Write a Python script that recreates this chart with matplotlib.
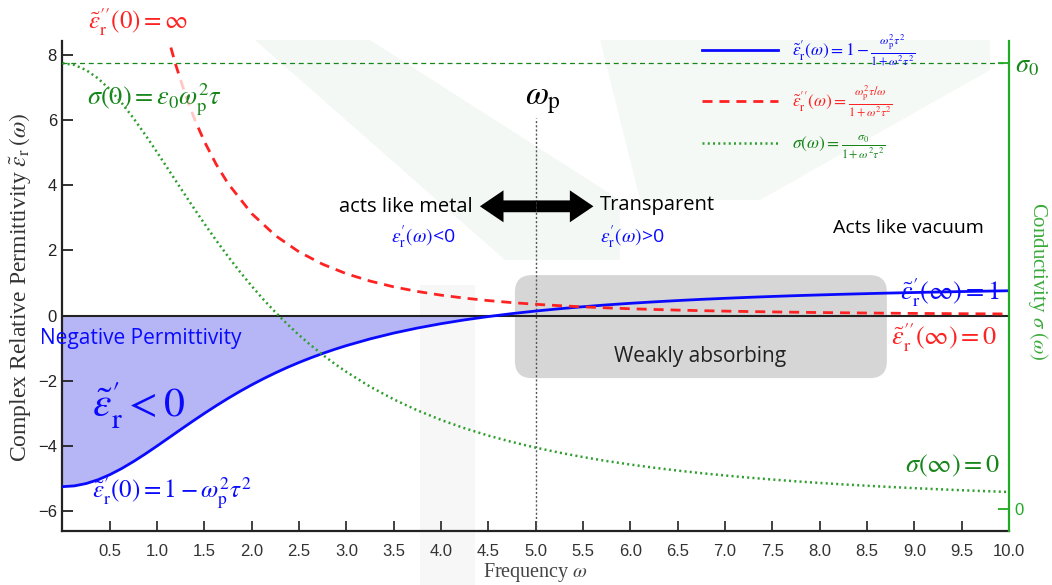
import matplotlib
matplotlib.use("Agg")
import matplotlib.pyplot as plt
from matplotlib.patches import FancyBboxPatch, FancyArrowPatch, Polygon

plt.rcParams['mathtext.fontset'] = 'stix'
plt.rcParams['font.family'] = ['Liberation Sans', 'DejaVu Sans']

omega = [0.0, 0.125, 0.25, 0.375, 0.5, 0.625, 0.75, 0.875, 1.0, 1.125, 1.25,
         1.375, 1.5, 1.625, 1.75, 1.875, 2.0, 2.125, 2.25, 2.375, 2.5, 2.625,
         2.75, 2.875, 3.0, 3.25, 3.5, 3.75, 4.0, 4.25, 4.5, 4.75, 5.0, 5.25,
         5.5, 5.75, 6.0, 6.25, 6.5, 6.75, 7.0, 7.25, 7.5, 7.75, 8.0, 8.25,
         8.5, 8.75, 9.0, 9.25, 9.5, 9.75, 10.0]
eps_real = [-5.250, -5.226, -5.154, -5.038, -4.882, -4.694, -4.479, -4.246,
            -4.000, -3.748, -3.494, -3.244, -3.000, -2.765, -2.540, -2.326,
            -2.125, -1.936, -1.759, -1.593, -1.439, -1.296, -1.162, -1.038,
            -0.923, -0.717, -0.538, -0.384, -0.250, -0.133, -0.031, 0.059,
            0.138, 0.208, 0.270, 0.326, 0.375, 0.419, 0.459, 0.496, 0.528,
            0.558, 0.585, 0.610, 0.632, 0.653, 0.672, 0.690, 0.706, 0.721,
            0.735, 0.748, 0.760]
sigma_ratio = [1.000, 0.9961, 0.9846, 0.9660, 0.9412, 0.9110, 0.8767, 0.8393,
               0.8000, 0.7596, 0.7191, 0.6791, 0.6400, 0.6024, 0.5664, 0.5322,
               0.5000, 0.4697, 0.4414, 0.4149, 0.3902, 0.3673, 0.3459, 0.3261,
               0.3077, 0.2747, 0.2462, 0.2215, 0.2000, 0.1813, 0.1649, 0.1506,
               0.1379, 0.1267, 0.1168, 0.1079, 0.1000, 0.0929, 0.0865, 0.0807,
               0.0755, 0.0707, 0.0664, 0.0624, 0.0588, 0.0555, 0.0525, 0.0497,
               0.0471, 0.0447, 0.0424, 0.0404, 0.0385]

omega_imag = [1.1, 1.15, 1.2, 1.3, 1.4, 1.5, 1.625, 1.75, 2.0, 2.25, 2.5, 2.75,
              3.0, 3.25, 3.5, 3.75, 4.0, 4.25, 4.5, 4.75, 5.0, 5.25, 5.5, 5.75,
              6.0, 6.25, 6.5, 6.75, 7.0, 7.25, 7.5, 7.75, 8.0, 8.25, 8.5, 8.75,
              9.0, 9.25, 9.5, 9.75, 10.0]
eps_imag = [8.724, 8.169, 7.659, 6.759, 5.992, 5.333, 4.633, 4.046, 3.125,
            2.452, 1.951, 1.572, 1.282, 1.057, 0.879, 0.738, 0.625, 0.533,
            0.458, 0.396, 0.345, 0.302, 0.265, 0.235, 0.208, 0.186, 0.166,
            0.149, 0.135, 0.122, 0.111, 0.101, 0.092, 0.084, 0.077, 0.071,
            0.065, 0.060, 0.056, 0.052, 0.048]

omega_p = 5.0
x_ticks = [0.5, 1.0, 1.5, 2.0, 2.5, 3.0, 3.5, 4.0, 4.5, 5.0, 5.5, 6.0, 6.5,
           7.0, 7.5, 8.0, 8.5, 9.0, 9.5, 10.0]
y_ticks = [-6, -4, -2, 0, 2, 4, 6, 8]

BLUE = '#0a0aff'
RED = '#ff2222'
GREEN = '#2e9e2e'
DKGREEN = '#17861a'

W, H = 1052, 585
fig = plt.figure(figsize=(W / 100, H / 100), dpi=100)


def px(x, y):
    return (x / W, 1 - y / H)


# faint logo shapes in the background
for pts, col in [([(255, 40), (370, 40), (620, 200), (620, 260), (505, 260)], '#f3f8f4'),
                 ([(600, 40), (990, 40), (990, 70), (760, 200), (640, 200)], '#f5f9f6'),
                 ([(420, 285), (475, 285), (475, 585), (420, 585)], '#f7f7f7')]:
    fig.add_artist(Polygon([px(*p) for p in pts], closed=True, fc=col, ec='none',
                           transform=fig.transFigure, zorder=0))

ax = fig.add_axes([0.0594, 0.0923, 0.8997, 0.8381])
ax.patch.set_alpha(0)
ax2 = ax.twinx()

ax.set_xlim(0, 10)
ax.set_ylim(-6.61, 8.43)
ax2.set_ylim(-0.049, 1.0504)

# weakly absorbing region
box = FancyBboxPatch((4.78, -1.92), 3.93, 3.16,
                     boxstyle="round,pad=0,rounding_size=0.18",
                     mutation_aspect=2.9, fc='#d6d6d6', ec='none', zorder=0.5)
ax.add_patch(box)

ax.fill_between(omega, eps_real, 0, where=[e < 0 for e in eps_real],
                interpolate=True, color='#b6b6f6', lw=0, zorder=1)
ax.axhline(0, color='#222222', lw=1.5, zorder=2)
ax.vlines(omega_p, -6.6, 6.05, colors='#555555', linestyles=(0, (1.5, 1.5)),
          lw=1.0, zorder=2)

l_real, = ax.plot(omega, eps_real, color=BLUE, lw=2, zorder=4)
l_imag, = ax.plot(omega_imag, eps_imag, color=RED, lw=2,
                  linestyle=(0, (3.6, 2.5)), zorder=4)
ax2.axhline(1.0, color=DKGREEN, lw=0.9, linestyle=(0, (4, 3)), zorder=1)
l_sig, = ax2.plot(omega, sigma_ratio, color=GREEN, lw=1.8,
                  linestyle=(0, (0.8, 1.3)), zorder=4)

# axes styling
for s in ['top', 'right']:
    ax.spines[s].set_visible(False)
for s in ['top', 'left', 'bottom']:
    ax2.spines[s].set_visible(False)
for s in ['left', 'bottom']:
    ax.spines[s].set_color('#222222')
    ax.spines[s].set_linewidth(1.6)
ax2.spines['right'].set_color('#22aa22')
ax2.spines['right'].set_linewidth(1.6)

ax.set_xticks(x_ticks)
ax.set_xticklabels(['%.1f' % t for t in x_ticks])
ax.set_yticks(y_ticks)
ax.tick_params(axis='x', direction='in', length=7, width=1.3, pad=9,
               labelsize=12, colors='#333333')
ax.tick_params(axis='y', direction='in', length=8, width=1.3, pad=4,
               labelsize=12, colors='#222222')
ax2.set_yticks([0, 1])
ax2.set_yticklabels(['0', r'$\sigma_0$'])
ax2.tick_params(axis='y', direction='in', length=8, width=1.3, pad=4,
                colors='#22aa22', labelsize=12)
ax2.get_yticklabels()[1].set_fontsize(19)
ax2.get_yticklabels()[1].set_color(DKGREEN)

ax.set_xlabel(r'Frequency $\omega$', family='Liberation Serif', fontsize=14.5,
              color='#444444')
ax.xaxis.set_label_coords(0.5, -0.062)
ax.set_ylabel(r'Complex Relative Permittivity $\tilde{\varepsilon}_{\mathrm{r}}\,(\omega)$',
              family='Liberation Serif', fontsize=17, color='#333333')
ax.yaxis.set_label_coords(-0.031, 0.496)
ax2.set_ylabel(r'Conductivity $\sigma\ (\omega)$', family='Liberation Serif',
               fontsize=15, color='#3aaa3a', rotation=270)
ax2.yaxis.set_label_coords(1.043, 0.51)

# annotations
ax.text(0.80, 9.0, r'$\tilde{\varepsilon}_{\mathrm{r}}^{\prime\prime}(0)=\infty$',
        color=RED, fontsize=18, ha='center', va='center', clip_on=False)
ax.text(0.26, 6.61, r'$\sigma(0)=\varepsilon_0\omega_{\mathrm{p}}^{2}\tau$',
        color=DKGREEN, fontsize=19, ha='left', va='center', zorder=6,
        bbox=dict(fc='white', ec='none', alpha=0.75, pad=3))
ax.text(5.08, 6.61, r'$\omega_{\mathrm{p}}$', color='black', fontsize=24,
        ha='center', va='center')

# double arrow across the plasma frequency
for tip in (4.41, 5.61):
    ax.add_patch(FancyArrowPatch((omega_p + 0.01, 3.35), (tip, 3.35),
                                 arrowstyle='simple,head_length=1.7,head_width=2.3,tail_width=0.85',
                                 mutation_scale=10, lw=0, color='black',
                                 shrinkA=0, shrinkB=0, zorder=5))
ax.text(4.33, 3.32, 'acts like metal', fontsize=14.5, ha='right', va='center',
        family='Open Sans')
ax.text(3.47, 2.40, r'$\varepsilon_{\mathrm{r}}^{\prime}(\omega)$<0', fontsize=14,
        ha='left', va='center', color=BLUE, family='Open Sans')
ax.text(5.68, 3.39, 'Transparent', fontsize=14.5, ha='left', va='center',
        family='Open Sans')
ax.text(5.68, 2.40, r'$\varepsilon_{\mathrm{r}}^{\prime}(\omega)$>0', fontsize=14,
        ha='left', va='center', color=BLUE, family='Open Sans')
ax.text(8.14, 2.68, 'Acts like vacuum', fontsize=14, ha='left', va='center',
        family='Open Sans')
ax.text(9.905, 0.72, r'$\tilde{\varepsilon}_{\mathrm{r}}^{\prime}(\infty)=1$',
        color=BLUE, fontsize=19, ha='right', va='center')
ax.text(9.88, -0.69, r'$\tilde{\varepsilon}_{\mathrm{r}}^{\prime\prime}(\infty)=0$',
        color=RED, fontsize=19, ha='right', va='center')
ax.text(6.74, -1.25, 'Weakly absorbing', fontsize=15, ha='center', va='center',
        family='Open Sans', color='#222222')
ax.text(-0.24, -0.72, 'Negative Permittivity', fontsize=15, ha='left',
        va='center', color=BLUE, family='Open Sans', clip_on=False, zorder=6)
ax.text(0.31, -2.76, r'$\tilde{\varepsilon}_{\mathrm{r}}^{\prime}<0$', color=BLUE,
        fontsize=30, ha='left', va='center')
ax.text(0.31, -5.46, r'$\tilde{\varepsilon}_{\mathrm{r}}^{\prime}(0)=1-\omega_{\mathrm{p}}^{2}\tau^{2}$',
        color=BLUE, fontsize=18, ha='left', va='center')
ax.text(9.905, -4.62, r'$\sigma(\infty)=0$', color=DKGREEN, fontsize=19,
        ha='right', va='center')

# legend with the model formulas
labels = [r'$\tilde{\varepsilon}_{\mathrm{r}}^{\prime}(\omega)=1-\frac{\omega_{\mathrm{p}}^{2}\tau^{2}}{1+\omega^{2}\tau^{2}}$',
          r'$\tilde{\varepsilon}_{\mathrm{r}}^{\prime\prime}(\omega)=\frac{\omega_{\mathrm{p}}^{2}\tau/\omega}{1+\omega^{2}\tau^{2}}$',
          r'$\sigma(\omega)=\frac{\sigma_0}{1+\omega^{2}\tau^{2}}$']
leg = ax2.legend([l_real, l_imag, l_sig], labels, loc='upper left',
                 bbox_to_anchor=px(686, 17), bbox_transform=fig.transFigure,
                 frameon=False, fontsize=12.5, handlelength=4.4,
                 handletextpad=0.8, labelspacing=0.85,
                 labelcolor=[BLUE, RED, DKGREEN])

fig.savefig('out.png', dpi=100)
